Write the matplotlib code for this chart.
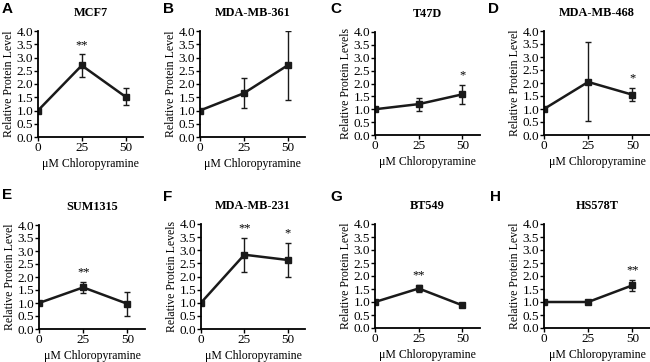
import matplotlib.pyplot as plt
import numpy as np

plt.rcParams['font.family'] = ['Liberation Serif', 'DejaVu Serif']

# doses (uM chloropyramine)
dose = [0, 25, 50]

# panel letters, cell lines, y labels
letters = ['A', 'B', 'C', 'D', 'E', 'F', 'G', 'H']
titles = ['MCF7', 'MDA-MB-361', 'T47D', 'MDA-MB-468',
          'SUM1315', 'MDA-MB-231', 'BT549', 'HS578T']
ylabels = ['Relative Protein Level', 'Relative Protein Level', 'Relative Protein Levels',
           'Relative Protein Level', 'Relative Protein Level', 'Relative Protein Levels',
           'Relative Protein Level', 'Relative Protein Level']

# mean values and error
means = [
    [1.0, 2.70, 1.52],
    [1.0, 1.65, 2.70],
    [1.0, 1.20, 1.58],
    [1.0, 2.04, 1.55],
    [1.0, 1.60, 0.97],
    [1.0, 2.83, 2.63],
    [1.0, 1.52, 0.87],
    [1.0, 1.00, 1.64],
]
errs = [
    [0, 0.43, 0.32],
    [0, 0.57, 1.29],
    [0, 0.25, 0.37],
    [0, 1.52, 0.26],
    [0, 0.21, 0.46],
    [0, 0.64, 0.66],
    [0, 0.15, 0.03],
    [0, 0.03, 0.21],
]
stars = [
    ['', '**', ''],
    ['', '', ''],
    ['', '', '*'],
    ['', '', '*'],
    ['', '**', ''],
    ['', '**', '*'],
    ['', '**', ''],
    ['', '', '**'],
]

# axes boxes in pixels: x0, x1, ytop, ybottom
boxes = [
    (38, 143, 31, 137), (200, 305, 31, 137), (375, 480, 32, 135), (544, 650, 31, 135),
    (39, 145, 225, 329), (201, 305, 224, 329), (375, 480, 224, 328), (544, 650, 224, 328),
]
letter_pos = [(2, 2), (163, 2), (330, 2), (488, 2),
              (2, 188), (163, 190), (330, 190), (490, 190)]

W, H = 650, 362
fig = plt.figure(figsize=(W / 100, H / 100), dpi=100)

for i in range(8):
    x0, x1, yt, yb = boxes[i]
    ax = fig.add_axes([x0 / W, 1 - yb / H, (x1 - x0) / W, (yb - yt) / H])
    ax.errorbar(dose, means[i], yerr=errs[i], color='#1a1a1a', lw=1.8,
                marker='s', ms=3.8, capsize=2.5, elinewidth=1.0, capthick=1.0)
    for d, m, e, s in zip(dose, means[i], errs[i], stars[i]):
        if s:
            ax.text(d, m + e + 0.12, s, ha='center', va='bottom', fontsize=9)
    ax.set_xlim(0, 60)
    ax.set_ylim(0, 4.0)
    ax.set_xticks(dose)
    ax.set_yticks(np.arange(0, 4.01, 0.5))
    ax.set_yticklabels(['%.1f' % v for v in np.arange(0, 4.01, 0.5)])
    for sp in ['top', 'right']:
        ax.spines[sp].set_visible(False)
    for sp in ['left', 'bottom']:
        ax.spines[sp].set_linewidth(1.3)
    ax.tick_params(direction='out', length=3, width=1.0, labelsize=9.5, pad=0.5)
    ax.set_title(titles[i], fontsize=8.8, fontweight='bold', pad=11)
    ax.set_xlabel('μM Chloropyramine', fontsize=8.5, labelpad=3)
    ax.set_ylabel(ylabels[i], fontsize=8.5, labelpad=1)
    lx, ly = letter_pos[i]
    fig.text(lx / W, 1 - ly / H, letters[i], ha='left', va='top',
             fontsize=11, fontweight='bold', family='Liberation Sans')

fig.savefig('out.png', dpi=100)
